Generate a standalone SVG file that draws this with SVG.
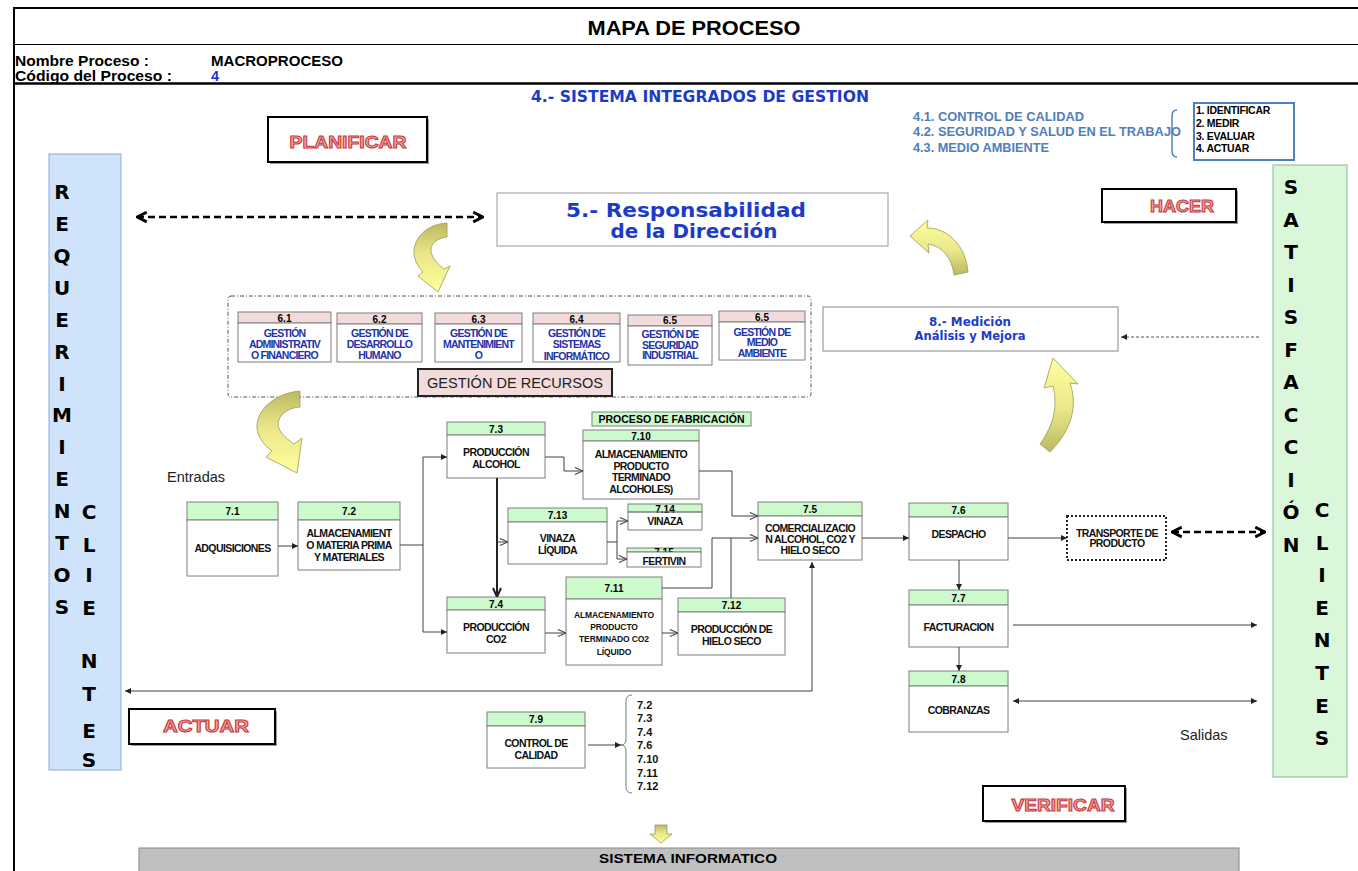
<svg xmlns="http://www.w3.org/2000/svg" width="1358" height="871" viewBox="0 0 1358 871">
<defs>
<style>
.ln{stroke:#000;fill:none}
.bx{fill:#fff;stroke:#7f7f7f;stroke-width:1}
.hg{fill:#ccfacc;stroke:#7f7f7f;stroke-width:1}
.hp{fill:#f2dcdb;stroke:#7f7f7f;stroke-width:1}
.sans{font-family:"Liberation Sans",Arial,sans-serif}
.hd{font-family:"Liberation Sans",Arial,sans-serif;font-weight:bold;font-size:10px;text-anchor:middle;fill:#000}
.tx{font-family:"Liberation Sans",Arial,sans-serif;font-weight:bold;font-size:10.5px;text-anchor:middle;fill:#111;letter-spacing:-0.6px}
.sm{font-family:"Liberation Sans",Arial,sans-serif;font-weight:bold;font-size:8.5px;text-anchor:middle;fill:#111;letter-spacing:-0.1px}
.bl{font-family:"Liberation Sans",Arial,sans-serif;font-weight:bold;font-size:10.5px;text-anchor:middle;fill:#2233aa;letter-spacing:-0.8px}
.lt{font-family:"DejaVu Sans",Verdana,sans-serif;font-weight:bold;font-size:20px;text-anchor:middle;fill:#000}
.pd{font-family:"Liberation Sans",Arial,sans-serif;font-weight:bold;font-size:17px;text-anchor:middle;fill:#f2a7a7;stroke:#c83737;stroke-width:1}
.pbox{fill:#fff;stroke:#000;stroke-width:2}
.shd{fill:#9a9a9a}
.cn{fill:none;stroke:#404040;stroke-width:1}
.dt{font-family:"DejaVu Sans",Verdana,sans-serif;font-weight:bold;fill:#1c3cc8;text-anchor:middle}
.ya{stroke:#9c9a55;stroke-width:0.8}
</style>
<linearGradient id="ygd" x1="0" y1="0" x2="0" y2="1">
<stop offset="0" stop-color="#bdb862"/><stop offset="0.45" stop-color="#e9e78a"/><stop offset="1" stop-color="#ffff9e"/>
</linearGradient>
<linearGradient id="ygu" x1="0" y1="1" x2="0" y2="0">
<stop offset="0" stop-color="#bdb862"/><stop offset="0.45" stop-color="#e9e78a"/><stop offset="1" stop-color="#ffff9e"/>
</linearGradient>
<clipPath id="clip715"><rect x="627" y="544" width="74" height="8.5"/></clipPath>
<marker id="af" viewBox="0 0 10 10" refX="10" refY="5" markerWidth="7" markerHeight="6" markerUnits="userSpaceOnUse" orient="auto-start-reverse">
<path d="M0,0 L10,5 L0,10 Z" fill="#222"/>
</marker>
<marker id="ao" viewBox="0 0 10 10" refX="10" refY="5" markerWidth="9" markerHeight="9" markerUnits="userSpaceOnUse" orient="auto">
<path d="M1,1 L10,5 L1,9" fill="none" stroke="#444" stroke-width="1.2"/>
</marker>
<marker id="av" viewBox="0 0 10 10" refX="10" refY="5" markerWidth="10" markerHeight="10" markerUnits="userSpaceOnUse" orient="auto">
<path d="M1,1 L10,5 L1,9" fill="none" stroke="#222" stroke-width="2"/>
</marker>
<marker id="ad" viewBox="0 0 12 12" refX="11" refY="6" markerWidth="13" markerHeight="13" markerUnits="userSpaceOnUse" orient="auto-start-reverse">
<path d="M2,1.5 L11,6 L2,10.5" fill="none" stroke="#000" stroke-width="2.6"/>
</marker>
</defs>

<rect width="1358" height="871" fill="#fff"/>

<!-- frame and header -->
<g id="frame">
<path class="ln" d="M14,871 V8 H1358" stroke-width="2"/>
<path class="ln" d="M14,44.5 H1358" stroke-width="1"/>
<path class="ln" d="M14,83.5 H1358" stroke-width="2.5"/>
<text x="694" y="35" class="sans" font-weight="bold" font-size="21" text-anchor="middle" textLength="213" lengthAdjust="spacingAndGlyphs">MAPA DE PROCESO</text>
<text x="15" y="66" class="sans" font-weight="bold" font-size="14.5" textLength="134" lengthAdjust="spacingAndGlyphs">Nombre Proceso :</text>
<text x="211" y="66" class="sans" font-weight="bold" font-size="14.5" textLength="132" lengthAdjust="spacingAndGlyphs">MACROPROCESO</text>
<text x="15" y="81" class="sans" font-weight="bold" font-size="14.5" textLength="157" lengthAdjust="spacingAndGlyphs">Código del Proceso :</text>
<text x="211" y="81" class="sans" font-weight="bold" font-size="14.5" fill="#1f2fd0">4</text>
<text x="700" y="102" class="dt" font-size="15" fill="#1f2fd0" textLength="338" lengthAdjust="spacingAndGlyphs">4.- SISTEMA INTEGRADOS DE GESTION</text>
</g>

<!-- management systems -->
<g id="sistemas">
<text x="913" y="121" class="sans" font-weight="bold" font-size="12" fill="#4f7ebd" textLength="171" lengthAdjust="spacingAndGlyphs">4.1. CONTROL DE CALIDAD</text>
<text x="913" y="136" class="sans" font-weight="bold" font-size="12" fill="#4f7ebd" textLength="268" lengthAdjust="spacingAndGlyphs">4.2. SEGURIDAD Y SALUD EN EL TRABAJO</text>
<text x="913" y="152" class="sans" font-weight="bold" font-size="12" fill="#4f7ebd" textLength="136" lengthAdjust="spacingAndGlyphs">4.3. MEDIO AMBIENTE</text>
<path d="M1177,110 Q1172,110 1172,116 L1172,151 Q1172,157 1177,157" fill="none" stroke="#4f81bd" stroke-width="1.5"/>
<rect x="1194" y="103" width="100" height="57" fill="#fff" stroke="#4f81bd" stroke-width="2"/>
<text x="1196" y="113.5" class="sans" font-weight="bold" font-size="10.5" letter-spacing="-0.3">1. IDENTIFICAR</text>
<text x="1196" y="127" class="sans" font-weight="bold" font-size="10.5" letter-spacing="-0.3">2. MEDIR</text>
<text x="1196" y="139.5" class="sans" font-weight="bold" font-size="10.5" letter-spacing="-0.3">3. EVALUAR</text>
<text x="1196" y="151.5" class="sans" font-weight="bold" font-size="10.5" letter-spacing="-0.3">4. ACTUAR</text>
</g>

<!-- PDCA labels -->
<g id="planificar">
<rect x="270" y="119" width="159" height="45" class="shd"/>
<rect x="268" y="117" width="159" height="45" class="pbox"/>
<text x="348" y="148" class="pd" textLength="117" lengthAdjust="spacingAndGlyphs">PLANIFICAR</text>
</g>
<g id="hacer">
<rect x="1104" y="191" width="134" height="33" class="shd"/>
<rect x="1102" y="189" width="134" height="33" class="pbox"/>
<text x="1182" y="211.5" class="pd" textLength="64" lengthAdjust="spacingAndGlyphs">HACER</text>
</g>
<g id="actuar">
<rect x="131" y="711" width="146" height="35" class="shd"/>
<rect x="129" y="709" width="146" height="35" class="pbox"/>
<text x="206" y="732" class="pd" textLength="86" lengthAdjust="spacingAndGlyphs">ACTUAR</text>
</g>
<g id="verificar">
<rect x="985" y="788" width="142" height="35" class="shd"/>
<rect x="983" y="786" width="142" height="35" class="pbox"/>
<text x="1063" y="811" class="pd" textLength="103" lengthAdjust="spacingAndGlyphs">VERIFICAR</text>
</g>

<!-- requirement column -->
<g id="requerimientos">
<rect x="49" y="154" width="72" height="616" fill="#cfe3fb" stroke="#8eaad6"/>
<text class="lt" x="62" y="199">R</text>
<text class="lt" x="62" y="231">E</text>
<text class="lt" x="62" y="263">Q</text>
<text class="lt" x="62" y="295">U</text>
<text class="lt" x="62" y="327">E</text>
<text class="lt" x="62" y="359">R</text>
<text class="lt" x="62" y="391">I</text>
<text class="lt" x="62" y="422">M</text>
<text class="lt" x="62" y="454">I</text>
<text class="lt" x="62" y="486">E</text>
<text class="lt" x="62" y="518">N</text>
<text class="lt" x="62" y="550">T</text>
<text class="lt" x="62" y="582">O</text>
<text class="lt" x="62" y="614">S</text>
<text class="lt" x="89" y="519">C</text>
<text class="lt" x="89" y="552">L</text>
<text class="lt" x="89" y="582">I</text>
<text class="lt" x="89" y="615">E</text>
<text class="lt" x="89" y="668">N</text>
<text class="lt" x="89" y="701">T</text>
<text class="lt" x="89" y="738">E</text>
<text class="lt" x="89" y="767">S</text>
</g>

<!-- satisfaction column -->
<g id="satisfaccion">
<rect x="1273" y="165" width="74" height="612" fill="#daf7da" stroke="#8fb58f"/>
<text class="lt" x="1291" y="194">S</text>
<text class="lt" x="1291" y="227">A</text>
<text class="lt" x="1291" y="259">T</text>
<text class="lt" x="1291" y="292">I</text>
<text class="lt" x="1291" y="324">S</text>
<text class="lt" x="1291" y="357">F</text>
<text class="lt" x="1291" y="389">A</text>
<text class="lt" x="1291" y="422">C</text>
<text class="lt" x="1291" y="454">C</text>
<text class="lt" x="1291" y="487">I</text>
<text class="lt" x="1291" y="519">Ó</text>
<text class="lt" x="1291" y="552">N</text>
<text class="lt" x="1322" y="517">C</text>
<text class="lt" x="1322" y="550">L</text>
<text class="lt" x="1322" y="582">I</text>
<text class="lt" x="1322" y="615">E</text>
<text class="lt" x="1322" y="647">N</text>
<text class="lt" x="1322" y="680">T</text>
<text class="lt" x="1322" y="713">E</text>
<text class="lt" x="1322" y="745">S</text>
</g>

<!-- direction -->
<g id="n5">
<rect x="497" y="193" width="391" height="53" fill="#fff" stroke="#999"/>
<text x="686" y="217" class="dt" font-size="19" textLength="240" lengthAdjust="spacingAndGlyphs">5.- Responsabilidad</text>
<text x="694" y="238" class="dt" font-size="19" textLength="167" lengthAdjust="spacingAndGlyphs">de la Dirección</text>
</g>

<!-- measurement -->
<g id="n8">
<rect x="823" y="307" width="295" height="44" fill="#fff" stroke="#888"/>
<text x="970" y="326" class="dt" font-size="13" fill="#1a2a9c" textLength="82" lengthAdjust="spacingAndGlyphs">8.- Medición</text>
<text x="970" y="340" class="dt" font-size="13" fill="#1a2a9c" textLength="111" lengthAdjust="spacingAndGlyphs">Análisis y Mejora</text>
</g>

<!-- resource management -->
<g id="n6">
<rect x="228" y="296" width="583" height="101" rx="3" fill="none" stroke="#555" stroke-dasharray="4 2 1 2"/>
<g id="n6-1">
<rect x="238" y="312" width="93" height="11" class="hp"/><rect x="238" y="323" width="93" height="39" class="bx"/>
<text x="284.5" y="321.5" class="hd">6.1</text>
<text x="284.5" y="337" class="bl">GESTIÓN</text><text x="284.5" y="347.5" class="bl">ADMINISTRATIV</text><text x="284.5" y="359" class="bl">O FINANCIERO</text>
</g>
<g id="n6-2">
<rect x="337" y="313" width="85" height="11" class="hp"/><rect x="337" y="324" width="85" height="38" class="bx"/>
<text x="379.5" y="322.5" class="hd">6.2</text>
<text x="379.5" y="337" class="bl">GESTIÓN DE</text><text x="379.5" y="348" class="bl">DESARROLLO</text><text x="379.5" y="359" class="bl">HUMANO</text>
</g>
<g id="n6-3">
<rect x="435" y="313" width="87" height="11" class="hp"/><rect x="435" y="324" width="87" height="38" class="bx"/>
<text x="478.5" y="322.5" class="hd">6.3</text>
<text x="478.5" y="337" class="bl">GESTIÓN DE</text><text x="478.5" y="348" class="bl">MANTENIMIENT</text><text x="478.5" y="359" class="bl">O</text>
</g>
<g id="n6-4">
<rect x="533" y="313" width="87" height="11" class="hp"/><rect x="533" y="324" width="87" height="38" class="bx"/>
<text x="576.5" y="322.5" class="hd">6.4</text>
<text x="576.5" y="337" class="bl">GESTIÓN DE</text><text x="576.5" y="348" class="bl">SISTEMAS</text><text x="576.5" y="359.5" class="bl">INFORMÁTICO</text>
</g>
<g id="n6-5a">
<rect x="628" y="315" width="84" height="11" class="hp"/><rect x="628" y="326" width="84" height="39" class="bx"/>
<text x="670" y="323.5" class="hd">6.5</text>
<text x="670" y="338" class="bl">GESTIÓN DE</text><text x="670" y="348.5" class="bl">SEGURIDAD</text><text x="670" y="359" class="bl">INDUSTRIAL</text>
</g>
<g id="n6-5b">
<rect x="719" y="311" width="86" height="11" class="hp"/><rect x="719" y="322" width="86" height="38" class="bx"/>
<text x="762" y="320.5" class="hd">6.5</text>
<text x="762" y="335.5" class="bl">GESTIÓN DE</text><text x="762" y="346" class="bl">MEDIO</text><text x="762" y="356.5" class="bl">AMBIENTE</text>
</g>
<g id="recursos">
<rect x="418" y="369" width="194" height="27" fill="#f2dcdb" stroke="#222" stroke-width="2"/>
<text x="515" y="387.5" class="sans" font-size="15" text-anchor="middle" fill="#222" textLength="176" lengthAdjust="spacingAndGlyphs">GESTIÓN DE RECURSOS</text>
</g>
</g>

<!-- cycle arrows -->
<g id="ciclo">
<path class="ya" fill="url(#ygd)" d="M447,223 C427,224 413,238 414,254 C415,262 419,268 423,272 L418,276 L438,292 L450,266 L444,269 C436,263 431,256 431,250 C431,243 438,238 447,237 Z"/>
<path class="ya" fill="url(#ygd)" d="M300,391 C275,393 256,410 257,428 C258,438 265,446 272,451 L266,457 L297,473 L302,438 L294,444 C284,437 278,430 278,424 C279,414 288,408 300,407 Z"/>
<path class="ya" fill="url(#ygu)" d="M910,236 L928,220 L927,228 C948,228 966,246 968,272 L954,275 C952,258 942,246 928,244 L929,253 Z"/>
<path class="ya" fill="url(#ygu)" d="M1053,358 L1078,384 L1070,383 C1078,405 1072,430 1050,452 L1040,444 C1054,425 1058,405 1053,386 L1044,388 Z"/>
<path class="ya" fill="url(#ygd)" d="M655,825 L667,825 L667,834 L672,834 L661,843 L650,834 L655,834 Z"/>
</g>

<!-- labels -->
<g id="labels">
<text x="167" y="482" class="sans" font-size="14.5" fill="#222">Entradas</text>
<text x="1180" y="740" class="sans" font-size="14.5" fill="#222">Salidas</text>
<rect x="592" y="412" width="159" height="14" fill="#ccfacc" stroke="#7f7f7f"/>
<text x="671.5" y="423" class="hd" textLength="146" lengthAdjust="spacingAndGlyphs">PROCESO DE FABRICACIÓN</text>
</g>

<!-- process nodes -->
<g id="n7-1">
<rect x="187" y="502" width="91" height="18" class="hg"/><rect x="187" y="520" width="91" height="56" class="bx"/>
<text x="232.5" y="515" class="hd">7.1</text><text x="232.5" y="551.5" class="tx">ADQUISICIONES</text>
</g>
<g id="n7-2">
<rect x="298" y="502" width="102" height="18" class="hg"/><rect x="298" y="520" width="102" height="50" class="bx"/>
<text x="349" y="515" class="hd">7.2</text>
<text x="349" y="537" class="tx">ALMACENAMIENT</text><text x="349" y="549" class="tx">O MATERIA PRIMA</text><text x="349" y="561" class="tx">Y MATERIALES</text>
</g>
<g id="n7-3">
<rect x="447" y="422" width="98" height="13" class="hg"/><rect x="447" y="435" width="98" height="43" class="bx"/>
<text x="496" y="432.5" class="hd">7.3</text>
<text x="496" y="456" class="tx">PRODUCCIÓN</text><text x="496" y="467.5" class="tx">ALCOHOL</text>
</g>
<g id="n7-10">
<rect x="583" y="430" width="116" height="11" class="hg"/><rect x="583" y="441" width="116" height="58" class="bx"/>
<text x="641" y="439.5" class="hd">7.10</text>
<text x="641" y="458" class="tx">ALMACENAMIENTO</text><text x="641" y="470" class="tx">PRODUCTO</text><text x="641" y="481" class="tx">TERMINADO</text><text x="641" y="492.5" class="tx">ALCOHOLES)</text>
</g>
<g id="n7-13">
<rect x="508" y="508" width="99" height="14" class="hg"/><rect x="508" y="522" width="99" height="42" class="bx"/>
<text x="557.5" y="519" class="hd">7.13</text>
<text x="557.5" y="542" class="tx">VINAZA</text><text x="557.5" y="553.5" class="tx">LÍQUIDA</text>
</g>
<g id="n7-14">
<rect x="628" y="504" width="74" height="8" class="hg"/>
<text x="665" y="513" class="hd">7.14</text>
<rect x="628" y="512" width="74" height="18" fill="none" stroke="#7f7f7f"/>
<text x="665" y="525" class="tx">VINAZA</text>
</g>
<g id="n7-15">
<rect x="627" y="548" width="74" height="4" class="hg"/>
<text x="664" y="556" class="hd" clip-path="url(#clip715)">7.15</text>
<rect x="627" y="552" width="74" height="15" class="bx"/>
<text x="664" y="564.5" class="tx">FERTIVIN</text>
</g>
<g id="n7-5">
<rect x="758" y="502" width="104" height="14" class="hg"/><rect x="758" y="516" width="104" height="44" class="bx"/>
<text x="810" y="513" class="hd">7.5</text>
<text x="810" y="531.5" class="tx">COMERCIALIZACIO</text><text x="810" y="542.5" class="tx">N ALCOHOL, CO2 Y</text><text x="810" y="554" class="tx">HIELO SECO</text>
</g>
<g id="n7-4">
<rect x="447" y="597" width="98" height="13" class="hg"/><rect x="447" y="610" width="98" height="43" class="bx"/>
<text x="496" y="607.5" class="hd">7.4</text>
<text x="496" y="631" class="tx">PRODUCCIÓN</text><text x="496" y="642.5" class="tx">CO2</text>
</g>
<g id="n7-11">
<rect x="566" y="577" width="96" height="22" class="hg"/><rect x="566" y="599" width="96" height="66" class="bx"/>
<text x="614" y="592" class="hd">7.11</text>
<text x="614" y="618" class="sm">ALMACENAMIENTO</text><text x="614" y="630" class="sm">PRODUCTO</text><text x="614" y="642" class="sm">TERMINADO CO2</text><text x="614" y="655" class="sm">LÍQUIDO</text>
</g>
<g id="n7-12">
<rect x="678" y="598" width="107" height="14" class="hg"/><rect x="678" y="612" width="107" height="43" class="bx"/>
<text x="731.5" y="609" class="hd">7.12</text>
<text x="731.5" y="633" class="tx">PRODUCCIÓN DE</text><text x="731.5" y="644.5" class="tx">HIELO SECO</text>
</g>
<g id="n7-6">
<rect x="909" y="503" width="99" height="14" class="hg"/><rect x="909" y="517" width="99" height="43" class="bx"/>
<text x="958.5" y="514" class="hd">7.6</text><text x="958.5" y="537.5" class="tx">DESPACHO</text>
</g>
<g id="transporte">
<rect x="1067" y="516" width="99" height="44" fill="#fff" stroke="#222" stroke-width="2" stroke-dasharray="2 2"/>
<text x="1117" y="536.5" class="tx" font-size="10" letter-spacing="-0.6">TRANSPORTE  DE</text>
<text x="1117" y="546.5" class="tx" font-size="10" letter-spacing="-0.6">PRODUCTO</text>
</g>
<g id="n7-7">
<rect x="909" y="590" width="99" height="15" class="hg"/><rect x="909" y="605" width="99" height="42" class="bx"/>
<text x="958.5" y="601.5" class="hd">7.7</text><text x="958.5" y="630.5" class="tx">FACTURACION</text>
</g>
<g id="n7-8">
<rect x="909" y="671" width="99" height="15" class="hg"/><rect x="909" y="686" width="99" height="46" class="bx"/>
<text x="958.5" y="682.5" class="hd">7.8</text><text x="958.5" y="713.5" class="tx">COBRANZAS</text>
</g>
<g id="n7-9">
<rect x="487" y="712" width="98" height="14" class="hg"/><rect x="487" y="726" width="98" height="42" class="bx"/>
<text x="536" y="723" class="hd">7.9</text>
<text x="536" y="747" class="tx">CONTROL DE</text><text x="536" y="758.5" class="tx">CALIDAD</text>
</g>
<g id="lista-control">
<path d="M632,695 Q626,695 626,701 L626,739 Q626,745 621,745 Q626,745 626,751 L626,787 Q626,793 632,793" fill="none" stroke="#777" stroke-width="1"/>
<g class="sans" font-weight="bold" font-size="11" fill="#111">
<text x="637" y="709">7.2</text><text x="637" y="722">7.3</text><text x="637" y="736">7.4</text><text x="637" y="749">7.6</text><text x="637" y="763">7.10</text><text x="637" y="777">7.11</text><text x="637" y="790">7.12</text>
</g>
</g>

<!-- information system -->
<g id="sistema-informatico">
<rect x="139" y="848" width="1100" height="30" fill="#c0c0c0" stroke="#888"/>
<text x="688" y="863" class="sans" font-weight="bold" font-size="12.5" text-anchor="middle" textLength="178" lengthAdjust="spacingAndGlyphs">SISTEMA INFORMATICO</text>
</g>

<!-- connectors -->
<g id="connectors">
<path class="cn" d="M278,546 L298,546" marker-end="url(#af)"/>
<path class="cn" d="M400,545 L423,545 M423,457 L423,632"/>
<path class="cn" d="M423,457 L447,457" marker-end="url(#af)"/>
<path class="cn" d="M423,632 L447,632" marker-end="url(#af)"/>
<path class="cn" d="M545,457 L564,457 L564,471 L583,471" marker-end="url(#ao)"/>
<path d="M497,478 L497,597" fill="none" stroke="#222" stroke-width="2" marker-end="url(#av)"/>
<path class="cn" d="M497,542 L508,542" marker-end="url(#ao)"/>
<path class="cn" d="M607,542 L617,542 M617,521 L617,559"/>
<path class="cn" d="M617,521 L628,521" marker-end="url(#ao)"/>
<path class="cn" d="M617,559 L627,559" marker-end="url(#ao)"/>
<path class="cn" d="M699,471 L732,471 L732,516 L758,516" marker-end="url(#ao)"/>
<path class="cn" d="M662,588 L712,588 L712,538 L758,538" marker-end="url(#ao)"/>
<path class="cn" d="M731,598 L731,538"/>
<path class="cn" d="M545,633 L566,633" marker-end="url(#ao)"/>
<path class="cn" d="M662,633 L678,633" marker-end="url(#ao)"/>
<path class="cn" d="M812,691 L812,562" marker-end="url(#af)"/>
<path class="cn" d="M812,691 L125,691" marker-end="url(#af)"/>
<path class="cn" d="M862,538 L909,538" marker-end="url(#af)"/>
<path class="cn" d="M1008,538 L1067,538" marker-end="url(#af)"/>
<path class="cn" d="M959,560 L959,590" marker-end="url(#af)"/>
<path class="cn" d="M959,647 L959,671" marker-end="url(#af)"/>
<path class="cn" d="M1013,625 L1257,625" marker-end="url(#af)"/>
<path class="cn" d="M1013,701 L1257,701" marker-start="url(#af)" marker-end="url(#af)"/>
<path class="cn" d="M588,745 L621,745" marker-end="url(#af)"/>
<path d="M1259,337 L1121,337" fill="none" stroke="#555" stroke-width="1" stroke-dasharray="3 2" marker-end="url(#af)"/>
<path d="M137,217 L483,217" fill="none" stroke="#000" stroke-width="2.6" stroke-dasharray="7 4" marker-start="url(#ad)" marker-end="url(#ad)"/>
<path d="M1172,532 L1265,532" fill="none" stroke="#000" stroke-width="2.6" stroke-dasharray="7 4" marker-start="url(#ad)" marker-end="url(#ad)"/>
</g>
</svg>
